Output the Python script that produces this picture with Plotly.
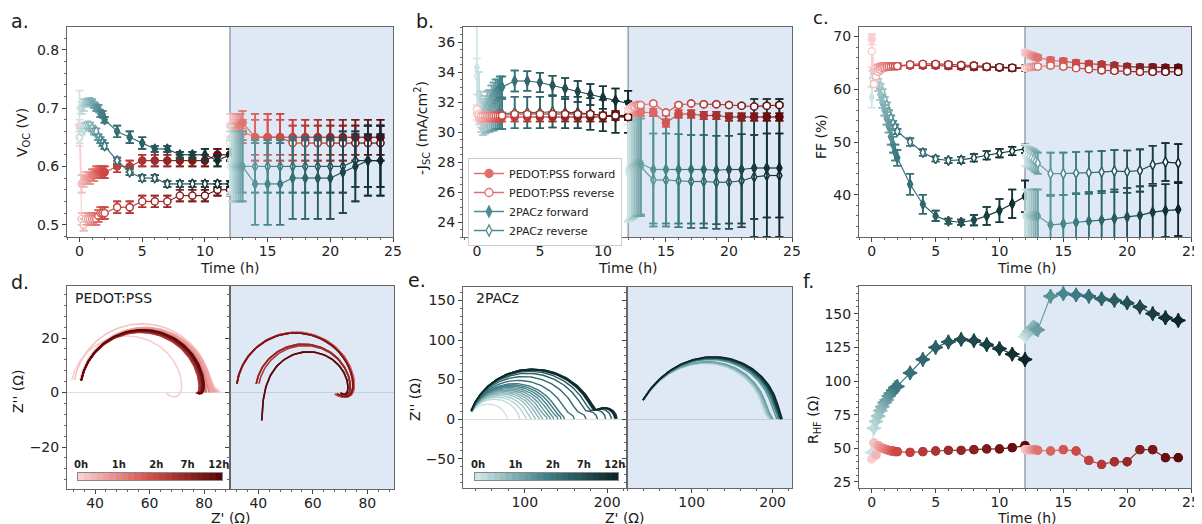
import numpy as np
import plotly.graph_objects as go

W, H = 1202, 524
OX, OY = 8, 8   # page body margin in which the figure sits

# ---------------- time axes (h) ----------------
T1 = [0, 0.17, 0.33, 0.5, 0.67, 0.83, 1.0, 1.17, 1.33, 1.5, 1.67, 1.83, 2.0,
      3, 4, 5, 6, 7, 8, 9, 10, 11, 12]
T2 = [12.0, 12.17, 12.33, 12.5, 12.67, 12.83, 13.0,
      14, 15, 16, 17, 18, 19, 20, 21, 22, 23, 24]
PHASE_SPLIT = 12

# ---------------- a. Voc (V) ----------------
VOC_PF_1 = [0.67, 0.57, 0.575, 0.58, 0.58, 0.58, 0.585, 0.585, 0.59, 0.59, 0.59, 0.59, 0.59,
            0.60, 0.60, 0.61, 0.61, 0.61, 0.61, 0.61, 0.61, 0.62, 0.62]
VOC_PF_1_E = [0.01, 0.015, 0.01, 0.01, 0.01, 0.01, 0.01, 0.01, 0.01, 0.01, 0.01, 0.01, 0.01,
              0.01, 0.01, 0.01, 0.01, 0.01, 0.01, 0.01, 0.01, 0.01, 0.01]
VOC_PF_2 = [0.67, 0.67, 0.67, 0.67, 0.67, 0.67, 0.675, 0.65, 0.65, 0.65, 0.65, 0.65, 0.65,
            0.65, 0.65, 0.65, 0.65, 0.65]
VOC_PF_2_E = [0.02, 0.02, 0.02, 0.02, 0.02, 0.02, 0.02, 0.04, 0.04, 0.04, 0.03, 0.03, 0.03,
              0.03, 0.03, 0.03, 0.03, 0.03]
VOC_PR_1 = [0.65, 0.51, 0.50, 0.51, 0.51, 0.51, 0.51, 0.51, 0.51, 0.515, 0.52, 0.52, 0.52,
            0.53, 0.53, 0.54, 0.54, 0.54, 0.55, 0.55, 0.55, 0.56, 0.56]
VOC_PR_1_E = [0.015, 0.01, 0.01, 0.01, 0.01, 0.01, 0.01, 0.01, 0.01, 0.01, 0.01, 0.01, 0.01,
              0.01, 0.01, 0.01, 0.01, 0.01, 0.01, 0.01, 0.01, 0.01, 0.01]
VOC_PR_2 = [0.64, 0.65, 0.66, 0.66, 0.66, 0.66, 0.66, 0.65, 0.65, 0.65, 0.64, 0.64, 0.64,
            0.64, 0.64, 0.64, 0.64, 0.64]
VOC_PR_2_E = [0.02, 0.02, 0.02, 0.02, 0.02, 0.02, 0.02, 0.03, 0.03, 0.03, 0.03, 0.03, 0.03,
              0.03, 0.03, 0.03, 0.03, 0.03]
VOC_AF_1 = [0.70, 0.70, 0.705, 0.71, 0.71, 0.71, 0.71, 0.705, 0.70, 0.70, 0.69, 0.69, 0.68,
            0.66, 0.65, 0.64, 0.63, 0.63, 0.62, 0.62, 0.62, 0.61, 0.62]
VOC_AF_1_E = [0.03, 0.01, 0.01, 0.005, 0.005, 0.005, 0.005, 0.005, 0.005, 0.005, 0.005, 0.005, 0.005,
              0.01, 0.01, 0.01, 0.005, 0.005, 0.005, 0.005, 0.01, 0.01, 0.01]
VOC_AF_2 = [0.61, 0.60, 0.60, 0.60, 0.60, 0.60, 0.60, 0.57, 0.57, 0.57, 0.58, 0.58, 0.58,
            0.58, 0.59, 0.60, 0.61, 0.61]
VOC_AF_2_E = [0.06, 0.06, 0.06, 0.06, 0.06, 0.06, 0.06, 0.07, 0.07, 0.07, 0.07, 0.07, 0.07,
              0.07, 0.07, 0.06, 0.06, 0.06]
VOC_AR_1 = [0.65, 0.66, 0.665, 0.67, 0.67, 0.67, 0.665, 0.66, 0.66, 0.65, 0.645, 0.64, 0.635,
            0.61, 0.59, 0.58, 0.58, 0.57, 0.57, 0.57, 0.57, 0.57, 0.57]
VOC_AR_1_E = [0.01, 0.005, 0.005, 0.005, 0.005, 0.005, 0.005, 0.005, 0.005, 0.005, 0.005, 0.005, 0.005,
              0.005, 0.005, 0.005, 0.005, 0.005, 0.005, 0.005, 0.005, 0.005, 0.005]
VOC_AR_2 = [0.60, 0.60, 0.60, 0.60, 0.60, 0.60, 0.60, 0.60, 0.60, 0.60, 0.60, 0.60, 0.60,
            0.60, 0.60, 0.61, 0.61, 0.61]
VOC_AR_2_E = [0.045, 0.045, 0.045, 0.045, 0.045, 0.045, 0.045, 0.045, 0.045, 0.045, 0.045, 0.045,
              0.045, 0.045, 0.045, 0.045, 0.045, 0.045]

# ---------------- b. -Jsc (mA/cm2) ----------------
JSC_PF_1 = [31.2, 31.0, 30.9, 30.9, 31.0, 31.0, 31.0, 31.0, 31.0, 31.0, 31.0, 31.0, 31.0,
            31.0, 31.0, 31.0, 31.0, 31.0, 31.0, 31.0, 31.0, 31.1, 31.1]
JSC_PF_1_E = [0.4, 0.3, 0.3, 0.3, 0.3, 0.3, 0.3, 0.3, 0.3, 0.3, 0.3, 0.3, 0.3,
              0.3, 0.3, 0.3, 0.3, 0.3, 0.3, 0.3, 0.3, 0.3, 0.3]
JSC_PF_2 = [31.3, 31.3, 31.3, 31.3, 31.3, 31.3, 31.3, 31.3, 30.6, 31.2, 31.2, 31.1, 31.1,
            31.0, 31.0, 31.0, 31.0, 31.0]
JSC_PF_2_E = [0.25, 0.25, 0.25, 0.25, 0.25, 0.25, 0.25, 0.25, 0.25, 0.25, 0.25, 0.25, 0.25,
              0.25, 0.25, 0.25, 0.25, 0.25]
JSC_PR_1 = [31.5, 31.2, 31.1, 31.1, 31.1, 31.1, 31.1, 31.1, 31.1, 31.1, 31.1, 31.1, 31.1,
            31.2, 31.2, 31.2, 31.2, 31.2, 31.2, 31.2, 31.1, 31.1, 31.0]
JSC_PR_1_E = [0.3, 0.15, 0.15, 0.15, 0.15, 0.15, 0.15, 0.15, 0.15, 0.15, 0.15, 0.15, 0.15,
              0.15, 0.15, 0.15, 0.15, 0.15, 0.15, 0.15, 0.15, 0.15, 0.15]
JSC_PR_2 = [31.5, 31.6, 31.7, 31.7, 31.8, 31.8, 31.8, 31.9, 31.3, 31.8, 31.9, 31.85, 31.85,
            31.8, 31.75, 31.7, 31.75, 31.8]
JSC_PR_2_E = [0.1, 0.1, 0.1, 0.1, 0.1, 0.1, 0.1, 0.1, 0.1, 0.1, 0.1, 0.1, 0.1,
              0.1, 0.1, 0.1, 0.1, 0.1]
JSC_AF_1 = [34.3, 32.5, 31.5, 31.2, 31.5, 31.8, 32.0, 32.3, 32.5, 32.7, 32.8, 33.0, 33.0,
            33.4, 33.4, 33.3, 33.1, 32.9, 32.7, 32.5, 32.3, 32.1, 31.9]
JSC_AF_1_E = [2.8, 1.5, 1.2, 1.0, 0.9, 0.9, 0.8, 0.8, 0.8, 0.8, 0.7, 0.7, 0.7,
              0.7, 0.65, 0.65, 0.65, 0.7, 0.7, 0.7, 0.75, 0.8, 0.85]
JSC_AF_2 = [27.5, 27.6, 27.7, 27.8, 27.9, 27.9, 27.9, 27.5, 27.5, 27.5, 27.5, 27.5, 27.45,
            27.5, 27.5, 27.6, 27.6, 27.6]
JSC_AF_2_E = [3.5, 3.5, 3.5, 3.5, 3.5, 3.5, 3.5, 3.6, 3.6, 3.6, 3.6, 3.6, 3.6,
              3.6, 3.6, 4.6, 4.6, 4.6]
JSC_AR_1 = [33.7, 31.5, 31.0, 30.8, 30.9, 31.0, 31.0, 31.1, 31.1, 31.2, 31.2, 31.2, 31.2,
            31.3, 31.3, 31.3, 31.35, 31.3, 31.3, 31.2, 31.1, 31.0, 31.0]
JSC_AR_1_E = [1.2, 1.0, 1.0, 1.0, 1.0, 1.0, 1.0, 1.0, 1.0, 1.0, 1.0, 1.0, 1.0,
              1.05, 1.05, 1.05, 1.05, 1.05, 1.05, 1.05, 1.05, 1.05, 1.05]
JSC_AR_2 = [27.3, 27.4, 27.5, 27.6, 27.7, 27.7, 27.7, 26.8, 26.8, 26.75, 26.7, 26.7, 26.65,
            26.65, 26.75, 27.0, 27.1, 27.1]
JSC_AR_2_E = [3.2, 3.2, 3.2, 3.2, 3.2, 3.2, 3.2, 3.1, 3.1, 3.1, 3.1, 3.1, 3.1,
              3.1, 3.1, 2.8, 2.8, 2.8]

# ---------------- c. FF (%) ----------------
FF_PF_1 = [69.5, 63.5, 64.0, 64.2, 64.3, 64.4, 64.4, 64.4, 64.4, 64.4, 64.4, 64.4, 64.4,
           64.5, 64.5, 64.5, 64.4, 64.3, 64.2, 64.2, 64.1, 64.0, 64.0]
FF_PF_1_E = [1.0, 0.5, 0.5, 0.5, 0.5, 0.5, 0.5, 0.5, 0.5, 0.5, 0.5, 0.5, 0.5,
             0.5, 0.5, 0.5, 0.5, 0.5, 0.5, 0.5, 0.5, 0.5, 0.5]
FF_PF_2 = [67.0, 66.8, 66.6, 66.4, 66.3, 66.1, 66.0, 65.5, 65.3, 65.0, 64.8, 64.7, 64.5,
           64.3, 64.2, 64.2, 64.1, 64.1]
FF_PF_2_E = [0.5, 0.5, 0.5, 0.5, 0.5, 0.5, 0.5, 0.5, 0.5, 0.5, 0.5, 0.5, 0.5,
             0.5, 0.5, 0.5, 0.5, 0.5]
FF_PR_1 = [67.2, 61.0, 62.5, 63.3, 63.7, 64.0, 64.1, 64.2, 64.3, 64.3, 64.4, 64.4, 64.4,
           64.7, 64.8, 64.8, 64.7, 64.6, 64.5, 64.3, 64.2, 64.1, 64.0]
FF_PR_1_E = [3.0, 0.5, 0.4, 0.4, 0.4, 0.4, 0.4, 0.4, 0.4, 0.4, 0.4, 0.4, 0.4,
             0.4, 0.4, 0.4, 0.4, 0.4, 0.4, 0.4, 0.4, 0.4, 0.4]
FF_PR_2 = [64.0, 64.1, 64.2, 64.2, 64.3, 64.3, 64.3, 64.5, 64.3, 64.0, 63.8, 63.6, 63.5,
           63.4, 63.3, 63.3, 63.3, 63.3]
FF_PR_2_E = [0.4, 0.4, 0.4, 0.4, 0.4, 0.4, 0.4, 0.4, 0.4, 0.4, 0.4, 0.4, 0.4,
             0.4, 0.4, 0.4, 0.4, 0.4]
FF_AF_1 = [58.5, 63.0, 62.0, 60.5, 59.0, 57.5, 56.0, 54.5, 53.0, 51.0, 49.5, 48.0, 47.0,
           42.0, 38.2, 36.0, 35.0, 34.8, 35.2, 36.0, 37.0, 38.3, 39.7]
FF_AF_1_E = [2.0, 0.8, 0.8, 0.8, 1.0, 1.0, 1.0, 1.2, 1.2, 1.5, 1.5, 1.5, 1.5,
             2.0, 1.8, 1.0, 0.5, 0.5, 1.0, 1.7, 2.2, 2.7, 3.0]
FF_AF_2 = [36.0, 36.0, 36.0, 36.0, 36.0, 36.0, 36.0, 34.3, 34.5, 34.8, 35.0, 35.2, 35.5,
           35.8, 36.1, 36.7, 37.0, 37.2]
FF_AF_2_E = [5.0, 5.0, 5.0, 5.0, 5.0, 5.0, 5.0, 5.5, 5.5, 5.5, 5.5, 5.5, 5.5,
             5.5, 5.5, 5.0, 5.0, 5.0]
FF_AR_1 = [62.0, 63.5, 62.5, 61.5, 60.5, 59.5, 58.0, 57.0, 55.5, 54.5, 53.5, 52.8, 52.0,
           50.0, 48.0, 46.8, 46.5, 46.6, 47.0, 47.5, 47.9, 48.3, 48.7]
FF_AR_1_E = [1.5, 0.5, 0.5, 0.5, 0.5, 0.5, 0.5, 0.5, 0.5, 0.5, 0.5, 0.5, 0.5,
             0.7, 0.6, 0.5, 0.5, 0.6, 0.7, 0.8, 0.8, 0.8, 0.8]
FF_AR_2 = [47.5, 47.3, 47.1, 46.9, 46.6, 46.3, 46.0, 44.0, 44.0, 44.1, 44.2, 44.3, 44.5,
           44.4, 44.6, 45.7, 46.2, 46.0]
FF_AR_2_E = [2.0, 2.0, 2.0, 2.0, 2.0, 2.0, 2.0, 4.0, 4.0, 4.0, 4.0, 4.0, 4.0,
             4.0, 4.0, 3.6, 3.6, 3.6]

# ---------------- f. R_HF (Ohm) ----------------
RHF_P_1 = [42, 54, 45, 52, 51, 50, 49.5, 49, 48.5, 48, 48, 47.5, 47.5,
           47, 47.5, 48, 48.5, 48.5, 49, 49.5, 49.5, 50.5, 52]
RHF_P_2 = [49, 49, 49, 49, 49, 49, 48.5, 48, 49, 48, 41, 38, 40, 40, 49, 49, 43, 43]
RHF_A_1 = [47, 65, 70, 74, 78, 81, 84, 86, 89, 91, 93, 95, 96,
           106, 116, 125, 129, 131, 130, 127, 124, 120, 116]
RHF_A_2 = [133, 135, 137, 139, 140, 139, 138, 163, 165, 164, 163, 161, 160, 158, 155, 150, 147, 145]

# ---------------- d./e. Nyquist spectra: element values per spectrum ----------------
NYQ_D1_RS = [31, 32, 34, 34.5, 34.5, 34.5, 34.5, 34.5, 34.5, 34.5, 34.5, 34.5, 34.5,
             34.5, 34.5, 34.5, 34.5, 34.5, 34.5, 34.5, 34.5, 34.5, 34.5]
NYQ_D1_R1 = [42, 50, 47, 47.5, 47, 46.5, 46, 46, 45.5, 45.5, 45, 45, 45,
             44.5, 44.5, 45, 45, 45.5, 45.5, 46, 46, 46, 46.5]
NYQ_D1_R2 = [-7, 4, 3.5, 3, 3, 2.5, 2, 1.5, 1, 0.5, -1, -1, -1.5,
             -1.5, -2, -2, -2, -2.5, -2.5, -2.5, -3, -3, -3]
NYQ_D2_RS = [32, 32, 32, 32, 32, 32, 32, 32, 32, 32, 39, 40, 39, 39, 32, 32, 41, 41]
NYQ_D2_R1 = [45, 45, 45, 45, 45, 45, 45, 44.5, 45, 44.5, 36, 35, 36, 36, 44.5, 44.5, 33, 33]
NYQ_D2_R2 = [-9, -9, -9, -9, -9, -9, -9, -9, -9, -9, -5, -5, -5, -5, -8, -8, -4, -4]
NYQ_D2_L = [0, 0, 0, 0, 0, 0, 0, 0, 0, 0, 0, 0, 0, 0, 0, 0, 45, 45]
NYQ_E1_RS = [32, 32, 32, 32, 32, 32, 32, 32, 32, 32, 32, 32, 32,
             32, 32, 32, 32, 32, 32, 32, 32, 32, 32]
NYQ_E1_R1 = [47, 62, 68, 73, 78, 82, 86, 90, 94, 98, 102, 106, 110,
             120, 132, 142, 148, 152, 154, 155, 155, 154, 153]
NYQ_E1_R2 = [0, 0, 2, 3, 3, 4, 4, 5, 5, 5, 6, 6, 6,
             8, 10, 14, 18, 21, 23, 24, 25, 25, 25]
NYQ_E2_RS = [28, 28, 28, 28, 28, 28, 28, 28, 28, 28, 28, 28, 28, 28, 28, 28, 28, 28]
NYQ_E2_R1 = [160, 161, 162, 163, 164, 165, 166, 172, 174, 175, 176, 177, 177, 178, 178, 178, 179, 180]
NYQ_E2_R2 = [6, 6, 6, 6, 6, 6, 6, 5, 5, 5, 5, 5, 5, 5, 4, 4, 4, 4]

CBAR_TICK_IDX = [0, 6, 12, 17, 22]
CBAR_LABELS = ["0h", "1h", "2h", "7h", "12h"]
LEGEND_NAMES = ["PEDOT:PSS forward", "PEDOT:PSS reverse", "2PACz forward", "2PACz reverse"]

# ---------------- styling ----------------
FONT = "DejaVu Sans"
SHADE = "rgb(222,233,245)"
PEDOT_STOPS = [(248, 206, 206), (212, 78, 74), (92, 8, 10)]
PACZ_STOPS = [(206, 229, 230), (64, 128, 135), (13, 40, 43)]
LEG_RED = "rgb(226,110,108)"
LEG_TEAL = "rgb(78,140,146)"


def grad(stops, n):
    out = []
    for i in range(n):
        f = i / (n - 1) if n > 1 else 0.0
        if f <= 0.5:
            a, b, g = stops[0], stops[1], f / 0.5
        else:
            a, b, g = stops[1], stops[2], (f - 0.5) / 0.5
        out.append("rgb(%d,%d,%d)" % tuple(int(round(a[k] + (b[k] - a[k]) * g)) for k in range(3)))
    return out


traces = []


def add_series(xs, ys, es, stops, symbol, hollow, size, xa, ya, lw=1.2, ew=1.6, cap=4):
    n = len(xs)
    cols = grad(stops, n)
    for i in range(n):
        idx = [i, i + 1] if i < n - 1 else [i]
        mc = [cols[k] for k in idx]
        traces.append(go.Scatter(
            x=[xs[k] for k in idx], y=[ys[k] for k in idx],
            mode="lines+markers",
            line=dict(color=cols[i], width=lw),
            marker=dict(symbol=symbol, size=size,
                        color=["white"] * len(idx) if hollow else mc,
                        line=dict(color=mc, width=1.3)),
            error_y=(dict(type="data", array=[es[k] for k in idx], visible=True,
                          color=cols[i], thickness=ew, width=cap) if es is not None else None),
            xaxis=xa, yaxis=ya, showlegend=False, hoverinfo="skip"))


def add_panel(sets, xa, ya, size):
    for (y1, e1, y2, e2, stops, sym, hollow) in sets:
        add_series(T1, y1, e1, stops, sym, hollow, size, xa, ya)
        add_series(T2, y2, e2, stops, sym, hollow, size, xa, ya)


CIRC, DIAM = "circle", "diamond-tall"
add_panel([
    (VOC_PR_1, VOC_PR_1_E, VOC_PR_2, VOC_PR_2_E, PEDOT_STOPS, CIRC, True),
    (VOC_PF_1, VOC_PF_1_E, VOC_PF_2, VOC_PF_2_E, PEDOT_STOPS, CIRC, False),
    (VOC_AR_1, VOC_AR_1_E, VOC_AR_2, VOC_AR_2_E, PACZ_STOPS, DIAM, True),
    (VOC_AF_1, VOC_AF_1_E, VOC_AF_2, VOC_AF_2_E, PACZ_STOPS, DIAM, False),
], "x", "y", 7)
add_panel([
    (JSC_AR_1, JSC_AR_1_E, JSC_AR_2, JSC_AR_2_E, PACZ_STOPS, DIAM, True),
    (JSC_AF_1, JSC_AF_1_E, JSC_AF_2, JSC_AF_2_E, PACZ_STOPS, DIAM, False),
    (JSC_PF_1, JSC_PF_1_E, JSC_PF_2, JSC_PF_2_E, PEDOT_STOPS, CIRC, False),
    (JSC_PR_1, JSC_PR_1_E, JSC_PR_2, JSC_PR_2_E, PEDOT_STOPS, CIRC, True),
], "x2", "y2", 7)
add_panel([
    (FF_AR_1, FF_AR_1_E, FF_AR_2, FF_AR_2_E, PACZ_STOPS, DIAM, True),
    (FF_AF_1, FF_AF_1_E, FF_AF_2, FF_AF_2_E, PACZ_STOPS, DIAM, False),
    (FF_PF_1, FF_PF_1_E, FF_PF_2, FF_PF_2_E, PEDOT_STOPS, CIRC, False),
    (FF_PR_1, FF_PR_1_E, FF_PR_2, FF_PR_2_E, PEDOT_STOPS, CIRC, True),
], "x3", "y3", 7)
# f
add_series(T1, RHF_A_1, None, PACZ_STOPS, "star-diamond", False, 10, "x8", "y8")
add_series(T2, RHF_A_2, None, PACZ_STOPS, "star-diamond", False, 10, "x8", "y8")
add_series(T1, RHF_P_1, None, PEDOT_STOPS, "circle", False, 8, "x8", "y8")
add_series(T2, RHF_P_2, None, PEDOT_STOPS, "circle", False, 8, "x8", "y8")


# ---------------- Nyquist spectra ----------------
def spectrum(rs, r1, r2, L, wmax, a1=1.0, b1=1.0, a2=1.0):
    w = np.logspace(np.log10(wmax), -6, 260)
    z = rs + r1 / (1 + (1j * w * r1) ** a1) ** b1
    if r2:
        z = z + r2 / (1 + (1j * w * abs(r2) * 1000.0) ** a2)
    z = z + 1j * w * L
    return z.real, -z.imag


def add_nyq(rs_l, r1_l, r2_l, L_l, stops, wmax, xa, ya, lw, **kw):
    cols = grad(stops, len(rs_l))
    for i in range(len(rs_l)):
        zr, zi = spectrum(rs_l[i], r1_l[i], r2_l[i], L_l[i] if L_l else 0, wmax, **kw)
        traces.append(go.Scatter(x=zr, y=zi, mode="lines", line=dict(color=cols[i], width=lw),
                                 xaxis=xa, yaxis=ya, showlegend=False, hoverinfo="skip"))


add_nyq(NYQ_D1_RS, NYQ_D1_R1, NYQ_D1_R2, None, PEDOT_STOPS, 0.22, "x4", "y4", 1.6, a2=0.6)
add_nyq(NYQ_D2_RS, NYQ_D2_R1, NYQ_D2_R2, NYQ_D2_L, PEDOT_STOPS, 0.30, "x5", "y5", 1.6, a2=0.5)
add_nyq(NYQ_E1_RS, NYQ_E1_R1, NYQ_E1_R2, None, PACZ_STOPS, 0.13, "x6", "y6", 1.4, a1=0.87)
add_nyq(NYQ_E2_RS, NYQ_E2_R1, NYQ_E2_R2, None, PACZ_STOPS, 0.069, "x7", "y7", 1.4, b1=0.75)

# colour-bar strips (time index -> colour)
for stops, xa, ya in [(PEDOT_STOPS, "x9", "y9"), (PACZ_STOPS, "x10", "y10")]:
    cols = grad(stops, len(T1))
    cs = [[i / (len(T1) - 1), c] for i, c in enumerate(cols)]
    traces.append(go.Heatmap(z=[list(range(len(T1)))], x=list(range(len(T1))), y=[0],
                             colorscale=cs, zmin=0, zmax=len(T1) - 1, showscale=False,
                             xaxis=xa, yaxis=ya, hoverinfo="skip"))

# legend entries
for name, col, sym, hollow in [(LEGEND_NAMES[0], LEG_RED, CIRC, False), (LEGEND_NAMES[1], LEG_RED, CIRC, True),
                               (LEGEND_NAMES[2], LEG_TEAL, DIAM, False), (LEGEND_NAMES[3], LEG_TEAL, DIAM, True)]:
    traces.append(go.Scatter(x=[None], y=[None], mode="lines+markers", name=name,
                             line=dict(color=col, width=1.5),
                             marker=dict(symbol=sym, size=8, color="white" if hollow else col,
                                         line=dict(color=col, width=1.3)),
                             xaxis="x2", yaxis="y2", showlegend=True))

fig = go.Figure(data=traces)


# ---------------- axes (positions given in screen pixels) ----------------
def dx(a, b):
    return [(a - OX) / W, (b - OX) / W]


def dy(top, bottom):
    return [1 - (bottom - OY) / H, 1 - (top - OY) / H]


BASE = dict(showline=True, linecolor="#666666", linewidth=1, mirror=True, ticks="outside",
            ticklen=4, tickwidth=1, tickcolor="#444444", showgrid=False, zeroline=False,
            automargin=False,
            tickfont=dict(family=FONT, size=14, color="#222222"))


def ax(n, kind, domain, rng, dtick, mdtick, labels=True, **extra):
    key = ("%saxis" % kind) + ("" if n == 1 else str(n))
    other = "y" if kind == "x" else "x"
    d = dict(BASE)
    d.update(domain=domain, range=rng, dtick=dtick, anchor=other + ("" if n == 1 else str(n)),
             showticklabels=labels,
             minor=dict(ticks="outside", ticklen=2, tickcolor="#666666", dtick=mdtick))
    if kind == "x":
        d["ticklabelstandoff"] = -3
    d.update(extra)
    fig.layout[key] = d


TOP_Y = dy(27, 237)
ax(1, "x", dx(67, 393), [-1.0, 25], 5, 1)
ax(1, "y", TOP_Y, [0.479, 0.839], 0.1, 0.02, tickformat=".1f")
ax(2, "x", dx(463, 792), [-1.1, 25], 5, 1)
ax(2, "y", TOP_Y, [23, 37], 2, 0.5)
ax(3, "x", dx(859, 1191), [-1.0, 25], 5, 1)
ax(3, "y", TOP_Y, [32, 71.8], 10, 2)
D_Y = dy(286, 489)
ZL = dict(zeroline=True, zerolinecolor="rgba(160,160,160,0.35)", zerolinewidth=1)
ax(4, "x", dx(67, 230), [29.7, 89.5], 20, 4)
ax(4, "y", D_Y, [-35.4, 39.1], 20, 4, **ZL)
ax(5, "x", dx(230, 394), [29.6, 89.8], 20, 4)
ax(5, "y", D_Y, [-35.4, 39.1], 20, 4, labels=False, **ZL)
E_Y = dy(287, 488)
ax(6, "x", dx(463, 627), [25, 224], 100, 20)
ax(6, "y", E_Y, [-87, 167], 50, 10, **ZL)
ax(7, "x", dx(627, 792), [20, 224], 100, 20)
ax(7, "y", E_Y, [-87, 167], 50, 10, labels=False, **ZL)
ax(8, "x", dx(859, 1191), [-1.0, 25], 5, 1)
ax(8, "y", dy(286, 488), [20.5, 170.6], 25, 5)
CB = dict(side="top", ticks="", tickvals=CBAR_TICK_IDX, ticklabelstandoff=0,
          ticktext=["<b>%s</b>" % s for s in CBAR_LABELS],
          tickfont=dict(family=FONT, size=10, color="#222222"), minor=dict(ticks=""),
          linecolor="#888888")
CBY = dict(showticklabels=False, ticks="", minor=dict(ticks=""), linecolor="#888888")
for n, xd in [(9, dx(78, 222)), (10, dx(475, 618))]:
    ax(n, "x", xd, [-0.5, len(T1) - 0.5], 1, 1)
    fig.layout["xaxis%d" % n].update(CB)
    ax(n, "y", dy(472.7, 480.3), [-0.5, 0.5], 1, 1)
    fig.layout["yaxis%d" % n].update(CBY)

# ---------------- shaded second phase ----------------
shapes = []
for xa, ya, xmax in [("x", "y", 25), ("x2", "y2", 25), ("x3", "y3", 25), ("x8", "y8", 25)]:
    shapes.append(dict(type="rect", xref=xa, yref=ya + " domain", x0=PHASE_SPLIT, x1=xmax, y0=0, y1=1,
                       fillcolor=SHADE, line=dict(width=0), layer="below"))
    shapes.append(dict(type="line", xref=xa, yref=ya + " domain", x0=PHASE_SPLIT, x1=PHASE_SPLIT, y0=0, y1=1,
                       line=dict(color="#8796a5", width=1.3), layer="below"))
for xa, ya in [("x5", "y5"), ("x7", "y7")]:
    shapes.append(dict(type="rect", xref=xa + " domain", yref=ya + " domain", x0=0, x1=1, y0=0, y1=1,
                       fillcolor=SHADE, line=dict(width=0), layer="below"))

# ---------------- text ----------------
ann = []


def txt(s, x, y, size=14, angle=0, xanchor="center", color="#1a1a1a"):
    ann.append(dict(text=s, x=(x - OX) / W, y=1 - (y - OY) / H, xref="paper", yref="paper",
                    showarrow=False, xanchor=xanchor, yanchor="middle", textangle=angle,
                    font=dict(family=FONT, size=size, color=color)))


for s, x, y in [("a.", 20, 21), ("b.", 425, 21), ("c.", 821, 18), ("d.", 20, 282), ("e.", 417, 280), ("f.", 808, 281)]:
    txt(s, x, y, size=19 if s != "c." else 18)
for s, x, y in [("Time (h)", 230, 268), ("Time (h)", 628, 268), ("Time (h)", 1027, 268),
                ("Z' (Ω)", 231, 518), ("Z' (Ω)", 625, 518), ("Time (h)", 1027, 518)]:
    txt(s, x, y, size=14)
for s, x, y in [("V<sub>OC</sub> (V)", 23, 133), ("-J<sub>SC</sub> (mA/cm<sup>2</sup>)", 422, 128),
                ("FF (%)", 821, 137), ("Z'' (Ω)", 18, 392), ("Z'' (Ω)", 415, 400),
                ("R<sub>HF</sub> (Ω)", 814, 420)]:
    txt(s, x, y, size=14, angle=-90)
txt("PEDOT:PSS", 73, 298, size=14, xanchor="left")
txt("2PACz", 474, 298, size=14, xanchor="left")

fig.update_layout(
    width=W, height=H, autosize=False, margin=dict(l=0, r=0, t=0, b=0, autoexpand=False),
    paper_bgcolor="white", plot_bgcolor="rgba(0,0,0,0)",
    font=dict(family=FONT, size=13, color="#1a1a1a"),
    hovermode=False, shapes=shapes, annotations=ann,
    legend=dict(x=(468 - OX) / W, y=1 - (158 - OY) / H, xanchor="left", yanchor="top", bgcolor="white",
                bordercolor="#cccccc", borderwidth=1, font=dict(family=FONT, size=11, color="#222222"),
                tracegroupgap=0, itemwidth=30),
)

fig.write_html("out.html")
